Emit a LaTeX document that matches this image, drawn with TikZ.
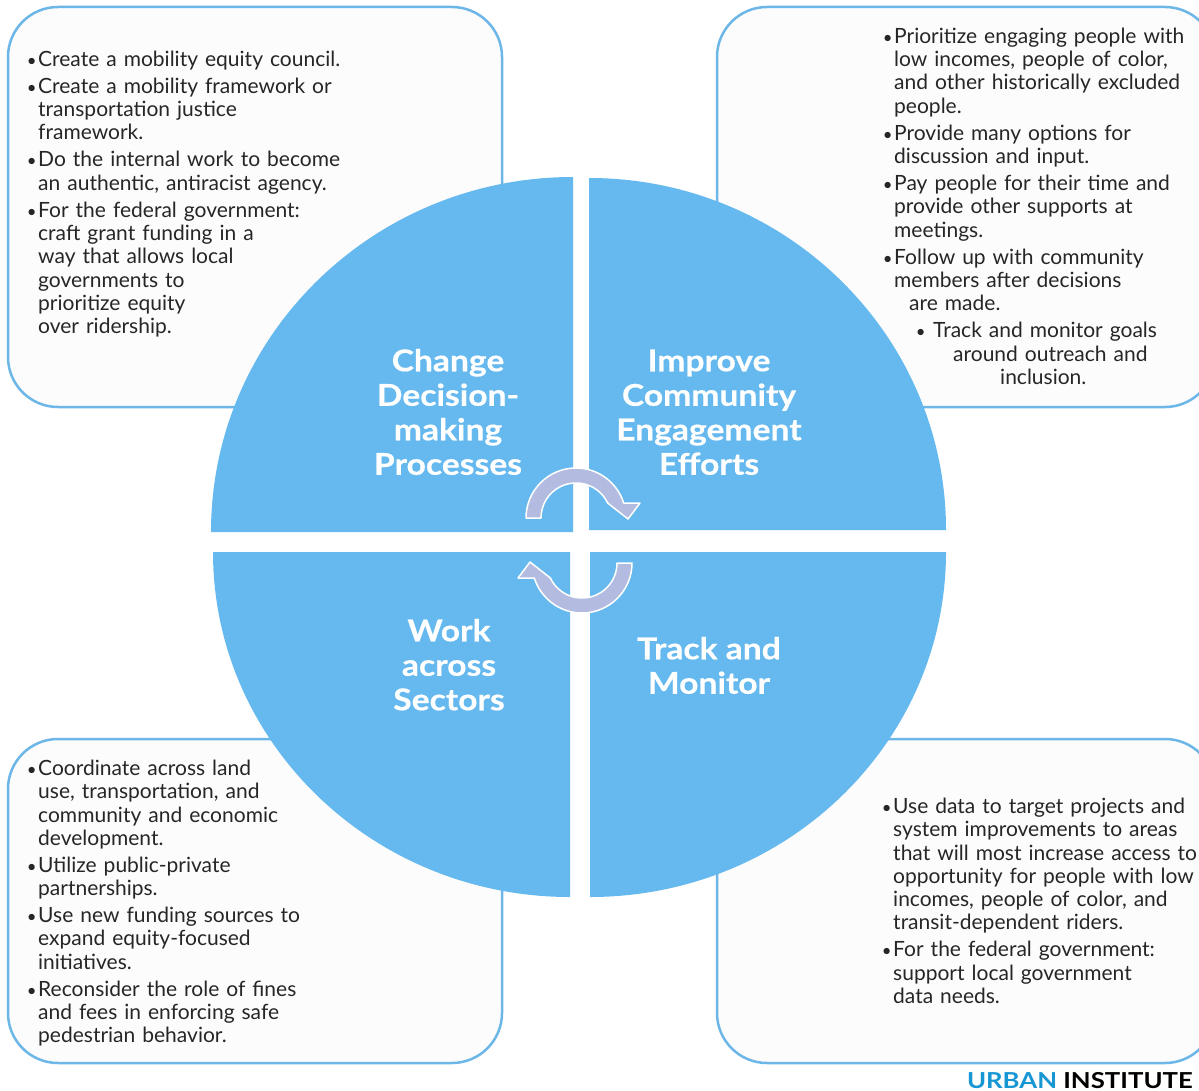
\documentclass[tikz,border=0pt]{standalone}
\usepackage{fontspec}
\setmainfont{Lato}
\newfontfamily\bodyfont{Lato}[WordSpace=0.8]
\definecolor{quadblue}{RGB}{101,185,238}
\definecolor{boxblue}{RGB}{108,182,232}
\definecolor{boxfill}{RGB}{252,252,252}
\definecolor{arrowfill}{RGB}{179,188,224}
\definecolor{textgray}{RGB}{38,38,38}
\definecolor{urbanblue}{RGB}{22,150,210}
\newcommand\bdot{\makebox[5pt][c]{\scalebox{0.8}{•}}\hspace*{4pt}}
\newcommand\bul[1]{\par\noindent\hangindent=9pt\hangafter=1\strut\bdot#1\par}
\begin{document}
\begin{tikzpicture}[x=1pt,y=-1pt,
  box/.style={draw=boxblue, line width=2.5pt, fill=boxfill, rounded corners=50pt},
  quad/.style={fill=quadblue},
  arr/.style={fill=arrowfill, draw=white, line width=1.5pt, line join=round},
  body/.style={anchor=north west, inner sep=0pt, text width=480pt, align=left, text=textgray,
    font=\bodyfont\fontsize{21}{23.3}\selectfont\setlength{\parskip}{3.7pt}},
  title/.style={anchor=north, inner sep=0pt, align=center, text=white,
    font=\fontsize{30}{34.5}\selectfont\bfseries\addfontfeatures{FakeStretch=1.12,FakeBold=0.5}}]
\useasboundingbox (0,0) rectangle (1199,1091);
\fill[white] (0,0) rectangle (1199,1091);
\begin{scope}
\clip (0,0) rectangle (1199,1091);
% boxes
\draw[box] (8,7) rectangle (502,407);
\draw[box] (717,7) rectangle (1215,407);
\draw[box] (8,739) rectangle (502,1063);
\draw[box] (717,739) rectangle (1215,1063);
% quadrants
\fill[quad] (573,532) -- (211,532) arc[start angle=180, end angle=270, x radius=362, y radius=355] -- cycle;
\fill[quad] (589,530) -- (589,178) arc[start angle=270, end angle=360, x radius=357, y radius=352] -- cycle;
\fill[quad] (570,552) -- (213,552) arc[start angle=180, end angle=90, x radius=357, y radius=345] -- cycle;
\fill[quad] (590,552) -- (946,552) arc[start angle=0, end angle=90, x radius=356, y radius=345] -- cycle;
\end{scope}
% circular arrows
\draw[arr] (526,518) arc[start angle=180, end angle=342.54, radius=50] -- (640,503) -- (628,519) -- (607.6,503) arc[start angle=334.62, end angle=180, radius=35] -- cycle;
\begin{scope}[rotate around={180:(579,540.5)}]
\draw[arr] (526,518) arc[start angle=180, end angle=342.54, radius=50] -- (640,503) -- (628,519) -- (607.6,503) arc[start angle=334.62, end angle=180, radius=35] -- cycle;
\end{scope}
% titles
\node[title] (t1) at (448,346.9) {\strut Change\\Decision-\\making\\Processes};
\node[title] (t2) at (709,346.9) {\strut Improve\\Community\\Engagement\\Efforts};
\node[title] (t3) at (449,616.9) {\strut Work\\across\\Sectors};
\node[title] (t4) at (709,634.9) {\strut Track and\\Monitor};
% box texts
\node[body] (b1) at (29,39.2) {%
\bul{Create a mobility equity council.}
\bul{Create a mobility framework or\newline transportation justice\newline framework.}
\bul{Do the internal work to become\newline an authentic, antiracist agency.}
\bul{For the federal government:\newline craft grant funding in a\newline way that allows local\newline governments to\newline prioritize equity\newline over ridership.}};
\node[body] (b2) at (885,16.2) {%
\bul{Prioritize engaging people with\newline low incomes, people of color,\newline and other historically excluded\newline people.}
\bul{Provide many options for\newline discussion and input.}
\bul{Pay people for their time and\newline provide other supports at\newline meetings.}
\bul{Follow up with community\newline members after decisions\newline\hspace*{15pt}are made.}
\par\noindent\hspace*{33pt}\strut\makebox[5pt][c]{\scalebox{0.8}{•}}\hspace*{10pt}Track and monitor goals\newline\hspace*{68pt}around outreach and\newline\hspace*{115pt}inclusion.\par};
\node[body] (b3) at (29,748.2) {%
\bul{Coordinate across land\newline use, transportation, and\newline community and economic\newline development.}
\bul{Utilize public-private\newline partnerships.}
\bul{Use new funding sources to\newline expand equity-focused\newline initiatives.}
\bul{Reconsider the role of fines\newline and fees in enforcing safe\newline pedestrian behavior.}};
\node[body] (b4) at (884,786.2) {%
\bul{Use data to target projects and\newline system improvements to areas\newline that will most increase access to\newline opportunity for people with low\newline incomes, people of color, and\newline transit-dependent riders.}
\bul{For the federal government:\newline support local government\newline data needs.}};
% logo
\node[anchor=base east, inner sep=0pt, font=\fontsize{22}{26}\selectfont\bfseries\addfontfeatures{FakeStretch=1.17}] (logo) at (1193,1088) {\textcolor{urbanblue}{URBAN} INSTITUTE};
\end{tikzpicture}
\end{document}
